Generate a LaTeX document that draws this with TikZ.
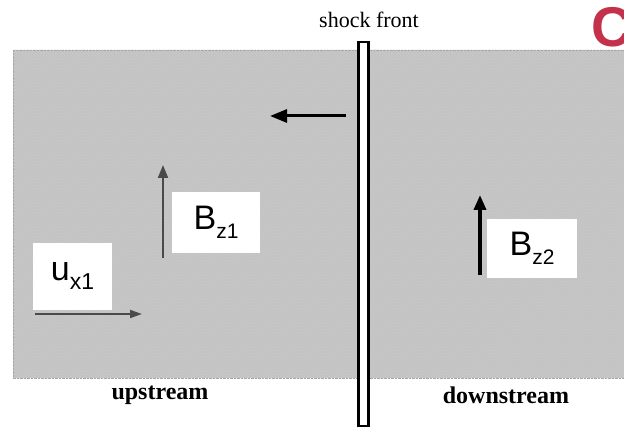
\documentclass[tikz,border=0pt]{standalone}
\usepackage{fontspec}
\setmainfont{Liberation Serif}
\setsansfont{Liberation Sans}
\usepackage{tikz}
\usetikzlibrary{positioning,arrows.meta,patterns}
\definecolor{Hatch}{HTML}{9A9A9A}
\definecolor{Plasma}{HTML}{CACACA}
\definecolor{Crimson}{HTML}{C4314B}
\definecolor{FieldGray}{HTML}{4A4A4A}

\begin{document}
\begin{tikzpicture}[x=1pt,y=-1pt,
  lbl/.style={fill=white,inner sep=0pt,font=\sffamily\fontsize{34}{34}\selectfont},
  vec/.style={-{Triangle[length=13pt,width=10pt]}}]
  \useasboundingbox (0,0) rectangle (624,430);
  % plasma region
  \path[preaction={fill=Plasma},pattern=north west lines,pattern color=Hatch,draw=gray!70,densely dotted] (13,50) rectangle (640,378);
  % labels in white boxes
  \node[lbl,minimum width=88pt,minimum height=61pt] (bz1) at (216,222.5) {B\raisebox{-9pt}{\fontsize{21}{21}\selectfont z1}};
  \node[lbl,minimum width=90pt,minimum height=59pt] (bz2) at (532,248.5) {B\raisebox{-9pt}{\fontsize{21}{21}\selectfont z2}};
  \node[lbl,minimum width=79pt,minimum height=67pt] (ux1) at (72.5,276.5) {u\raisebox{-9pt}{\fontsize{23}{23}\selectfont x1}};
  % vectors
  \coordinate (bz1s) at (163,258);
  \coordinate (bz1e) at (163,165);
  \coordinate (bz2s) at (480,275);
  \coordinate (bz2e) at (480,195);
  \coordinate (ux1s) at (35,314);
  \coordinate (ux1e) at (142,314);
  \coordinate (mvs) at (346,116);
  \coordinate (mve) at (270,116);
  \draw[vec,FieldGray,line width=2pt] (bz1s) -- (bz1e);
  \draw[vec,black,line width=3.5pt,-{Triangle[length=15pt,width=12pt]}] (bz2s) -- (bz2e);
  \draw[vec,FieldGray,line width=1.8pt,-{Triangle[length=12pt,width=8pt]}] (ux1s) -- (ux1e);
  \draw[vec,black,line width=3pt,-{Triangle[length=17pt,width=13pt]}] (mvs) -- (mve);
  % shock front
  \node[draw,line width=2.5pt,fill=white,minimum width=10pt,minimum height=384pt,inner sep=0pt] (shock) at (363.5,234) {};
  \node[font=\fontsize{22}{22}\selectfont] (sflbl) at (369,20) {shock front};
  \node[font=\bfseries\fontsize{24}{24}\selectfont] (up) at (160,395) {upstream};
  \node[font=\bfseries\fontsize{24}{24}\selectfont] (down) at (506,395) {downstream};
  \node[anchor=base west,inner sep=0pt,text=Crimson,font=\sffamily\bfseries\fontsize{56}{56}\selectfont] (tag) at (591,47) {C};
\end{tikzpicture}
\end{document}
